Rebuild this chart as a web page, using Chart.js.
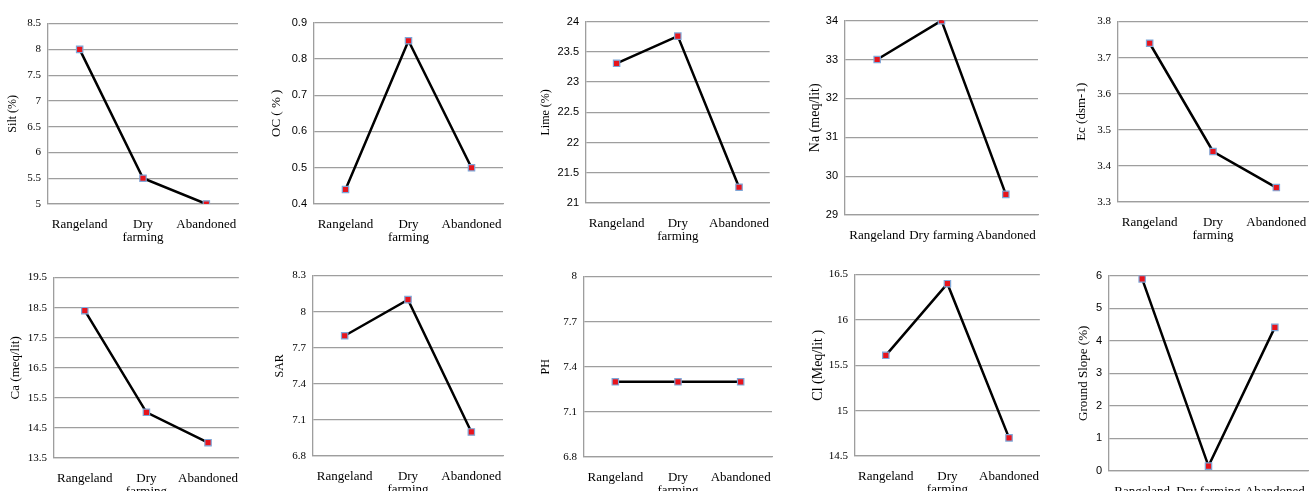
<!DOCTYPE html>
<html>
<head>
<meta charset="utf-8">
<script src="https://cdn.jsdelivr.net/npm/chart.js@4"></script>
<style>
  html, body { margin: 0; padding: 0; background: #fff; }
  body { width: 1314px; height: 491px; overflow: hidden; position: relative; }
  canvas { position: absolute; }
</style>
</head>
<body>
<script>
const categories = ["Rangeland", "Dry farming", "Abandoned"];

const siltValues = [8.0, 5.5, 5.0];
const siltTicks = [5, 5.5, 6, 6.5, 7, 7.5, 8, 8.5];

const ocValues = [0.44, 0.85, 0.5];
const ocTicks = [0.4, 0.5, 0.6, 0.7, 0.8, 0.9];

const limeValues = [23.31, 23.76, 21.26];
const limeTicks = [21, 21.5, 22, 22.5, 23, 23.5, 24];

const naValues = [33, 34, 29.53];
const naTicks = [29, 30, 31, 32, 33, 34];

const ecValues = [3.74, 3.44, 3.34];
const ecTicks = [3.3, 3.4, 3.5, 3.6, 3.7, 3.8];

const caValues = [18.4, 15.02, 14.01];
const caTicks = [13.5, 14.5, 15.5, 16.5, 17.5, 18.5, 19.5];

const sarValues = [7.8, 8.1, 7.0];
const sarTicks = [6.8, 7.1, 7.4, 7.7, 8, 8.3];

const phValues = [7.3, 7.3, 7.3];
const phTicks = [6.8, 7.1, 7.4, 7.7, 8];

const clValues = [15.61, 16.4, 14.7];
const clTicks = [14.5, 15, 15.5, 16, 16.5];

const slopeValues = [5.9, 0.15, 4.41];
const slopeTicks = [0, 1, 2, 3, 4, 5, 6];

const SERIF = "'Liberation Serif', 'Times New Roman', serif";
const SANS = "'Liberation Sans', Arial, sans-serif";

// Plotbereich je Diagramm: [links, oben, rechts, unten]
const panels = [
  { title: "Silt (%)", values: siltValues, ticks: siltTicks, box: [48, 18, 238, 204], gap: 35, titleSize: 12, tickFont: SERIF, wrap: true },
  { title: "OC ( % )", values: ocValues, ticks: ocTicks, box: [314, 17, 503, 204], gap: 37, titleSize: 13, tickFont: SANS, wrap: true },
  { title: "Lime (%)", values: limeValues, ticks: limeTicks, box: [586, 16, 770, 203], gap: 40, titleSize: 12, tickFont: SANS, wrap: true },
  { title: "Na (meq/lit)", values: naValues, ticks: naTicks, box: [845, 15, 1038, 215], gap: 30, titleSize: 14, tickFont: SANS, wrap: false },
  { title: "Ec (dsm-1)", values: ecValues, ticks: ecTicks, box: [1118, 16, 1308, 202], gap: 36, titleSize: 13, tickFont: SERIF, wrap: true },
  { title: "Ca (meq/lit)", values: caValues, ticks: caTicks, box: [54, 272, 239, 458], gap: 38, titleSize: 13, tickFont: SERIF, wrap: true },
  { title: "SAR", values: sarValues, ticks: sarTicks, box: [313, 270, 503, 456], gap: 33, titleSize: 12, tickFont: SERIF, wrap: true },
  { title: "PH", values: phValues, ticks: phTicks, box: [584, 271, 772, 457], gap: 38, titleSize: 12, tickFont: SERIF, wrap: true },
  { title: "Cl (Meq/lit )", values: clValues, ticks: clTicks, box: [855, 269, 1040, 456], gap: 37, titleSize: 14, tickFont: SERIF, wrap: true },
  { title: "Ground Slope (%)", values: slopeValues, ticks: slopeTicks, box: [1109, 270, 1308, 471], gap: 25, titleSize: 13, tickFont: SANS, wrap: false }
];

const GRID = "#9e9e9e";
const TEXT = "#000";

function makePanel(p) {
  const [l, t, r, b] = p.box;
  const yW = Math.round(p.gap + p.titleSize * 1.2 / 2);
  const padTop = 8, padRight = 6, xH = 40;

  const cv = document.createElement("canvas");
  cv.width = r - l + yW + padRight;
  cv.height = b - t + padTop + xH;
  cv.style.left = (l - yW) + "px";
  cv.style.top = (t - padTop) + "px";
  document.body.appendChild(cv);

  new Chart(cv, {
    type: "line",
    data: {
      labels: categories,
      datasets: [{
        data: p.values,
        borderColor: "#000",
        borderWidth: 2.5,
        tension: 0,
        pointStyle: "rect",
        pointRadius: 4.5,
        pointBackgroundColor: "#e8141c",
        pointBorderColor: "#7fa7d8",
        pointBorderWidth: 1.2
      }]
    },
    options: {
      responsive: false,
      animation: false,
      devicePixelRatio: 1,
      layout: { padding: { top: padTop, right: padRight, left: 0, bottom: 0 } },
      plugins: { legend: { display: false }, tooltip: { enabled: false } },
      scales: {
        x: {
          offset: true,
          grid: { display: false },
          border: { display: true, color: GRID, width: 1.3 },
          ticks: {
            color: TEXT,
            padding: 6,
            maxRotation: 0,
            autoSkip: false,
            font: { family: SERIF, size: 13, lineHeight: 1 },
            callback: (v, i) => p.wrap ? categories[i].split(" ") : categories[i]
          },
          afterFit: s => { s.height = xH; }
        },
        y: {
          min: p.ticks[0],
          max: p.ticks[p.ticks.length - 1],
          afterBuildTicks: s => { s.ticks = p.ticks.map(v => ({ value: v })); },
          grid: { color: GRID, lineWidth: 1.2, drawTicks: false },
          border: { color: GRID, width: 1.3 },
          ticks: {
            color: TEXT,
            padding: 7,
            font: { family: p.tickFont, size: 11 },
            callback: v => String(v)
          },
          title: {
            display: true,
            text: p.title,
            color: TEXT,
            padding: 0,
            font: { family: SERIF, size: p.titleSize }
          },
          afterFit: s => { s.width = yW; }
        }
      }
    }
  });
}

panels.forEach(makePanel);
</script>
</body>
</html>
